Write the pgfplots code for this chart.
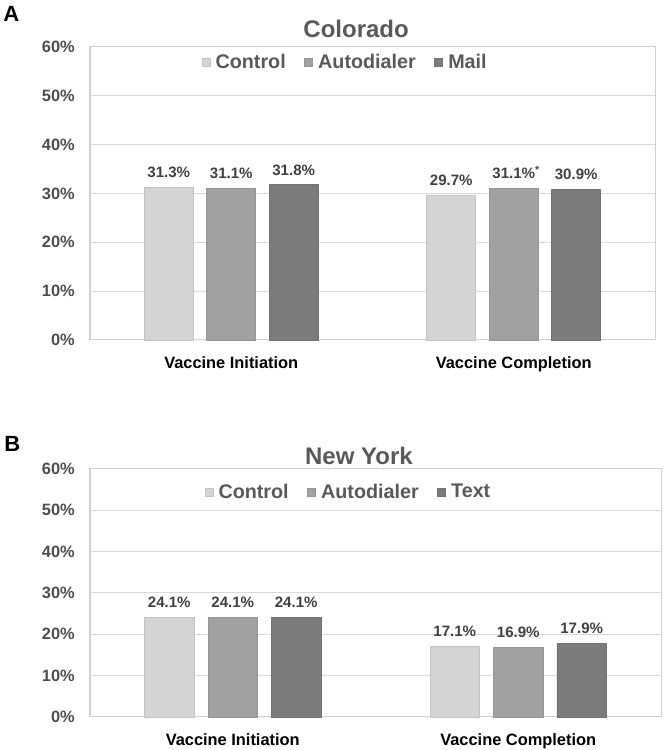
\documentclass[border=0pt]{standalone}
\usepackage{fontspec}
\setmainfont{Liberation Sans}
\usepackage{pgfplots}
\pgfplotsset{compat=1.18}
\definecolor{cctrl}{HTML}{D4D4D4}
\definecolor{cauto}{HTML}{A1A1A1}
\definecolor{cmail}{HTML}{7B7B7B}
\definecolor{gridc}{HTML}{D9D9D9}
\definecolor{framec}{HTML}{D0D0D0}
\definecolor{tickc}{HTML}{4D4D4D}
\definecolor{datac}{HTML}{404040}
\definecolor{legc}{HTML}{595959}
\definecolor{titlec}{HTML}{595959}
\pgfplotsset{
  panel/.style={
    scale only axis, anchor=south west, clip=false,
    ymin=0, ymax=60, ytick={0,10,...,60},
    yticklabels={0\%,10\%,20\%,30\%,40\%,50\%,60\%},
    xmin=-0.5, xmax=1.5, xtick={0,1},
    xticklabels={Vaccine Initiation,Vaccine Completion},
    major tick length=0pt, tick style={draw=none},
    ymajorgrids, grid style={draw=gridc, line width=0.75pt},
    axis line style={draw=framec, line width=0.75pt},
    yticklabel style={font=\fontsize{12.3}{14}\selectfont\bfseries, text=tickc, inner sep=0pt, anchor=east, xshift=-11.25pt},
    xticklabel style={font=\fontsize{12.3}{14}\selectfont\bfseries, text=black, inner sep=0pt, anchor=north, yshift=-12pt},
    nodes near coords, point meta=explicit symbolic,
    every node near coord/.append style={font=\fontsize{11.3}{13}\selectfont\bfseries, text=datac, inner sep=0pt, anchor=south, yshift=6.75pt},
    legend columns=3,
    legend style={draw=none, fill=none, anchor=center,
      font=\fontsize{14.8}{16}\selectfont\bfseries, text=legc,
      nodes={inner sep=0pt},
      /tikz/every odd column/.append style={column sep=3.75pt},
      /tikz/every even column/.append style={column sep=14pt}},
  },
  sqlegend/.style={legend image code/.code={\fill[##1] (0pt,-3pt) rectangle (6pt,3pt);}},
  bctrl/.style={fill=cctrl, draw=cctrl!92!black, line width=0.6pt, sqlegend},
  bauto/.style={fill=cauto, draw=cauto!92!black, line width=0.6pt, sqlegend},
  bmail/.style={fill=cmail, draw=cmail!92!black, line width=0.6pt, sqlegend},
}
\begin{document}
\begin{tikzpicture}
\path[use as bounding box] (0,0) rectangle (498.75pt,562.5pt);

% panel A
\begin{axis}[panel, at={(67.5pt,307.5pt)}, width=423.75pt, height=219.75pt,
  ybar=10.1pt, bar width=36.75pt,
  legend style={at={(0.45,0.949)}}]
\addplot[bctrl] coordinates {(0,31.3)[31.3\%] (1,29.7)[29.7\%]};
\addplot[bauto] coordinates {(0,31.1)[31.1\%] (1,31.1)[31.1\%\rlap{\textsuperscript{*}}]};
\addplot[bmail] coordinates {(0,31.8)[31.8\%] (1,30.9)[30.9\%]};
\legend{Control,Autodialer,Mail}
\node[anchor=base, inner sep=0pt, font=\fontsize{18}{20}\selectfont\bfseries, text=titlec, yshift=6.75pt] at (rel axis cs:0.471,1) {Colorado};
\end{axis}

% panel B
\begin{axis}[panel, at={(67.5pt,24.75pt)}, width=428.25pt, height=186pt,
  ybar=10.5pt, bar width=37.1pt,
  legend style={at={(0.451,0.907)}}]
\addplot[bctrl] coordinates {(0,24.1)[24.1\%] (1,17.1)[17.1\%]};
\addplot[bauto] coordinates {(0,24.1)[24.1\%] (1,16.9)[16.9\%]};
\addplot[bmail] coordinates {(0,24.1)[24.1\%] (1,17.9)[17.9\%]};
\legend{Control,Autodialer,Text}
\node[anchor=base, inner sep=0pt, font=\fontsize{18}{20}\selectfont\bfseries, text=titlec, yshift=3pt] at (rel axis cs:0.471,1) {New York};
\end{axis}

\node[anchor=base west, inner sep=0pt, font=\fontsize{16.5}{18}\selectfont\bfseries] at (2.25pt,546pt) {A};
\node[anchor=base west, inner sep=0pt, font=\fontsize{16.5}{18}\selectfont\bfseries] at (3pt,223.5pt) {B};
\end{tikzpicture}
\end{document}
